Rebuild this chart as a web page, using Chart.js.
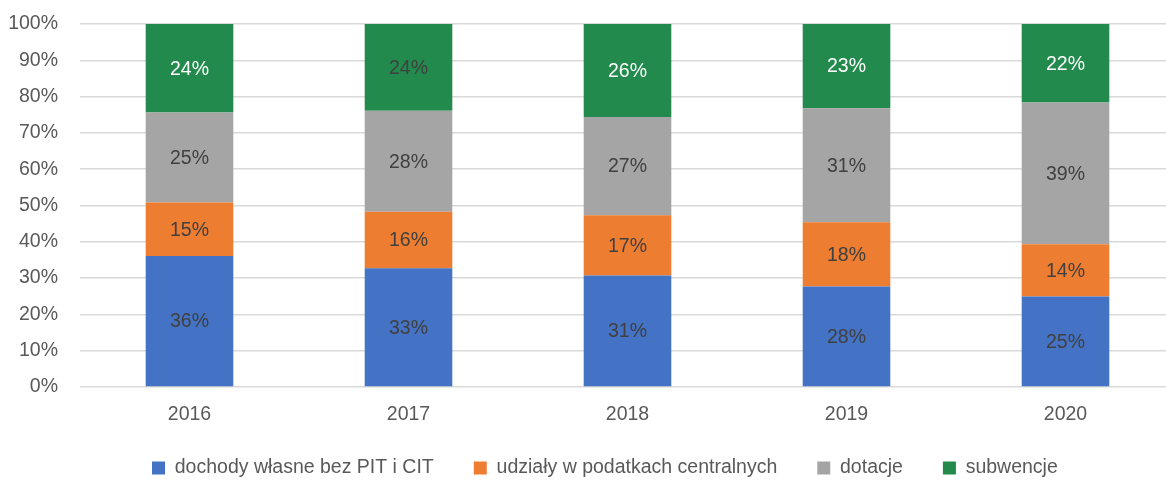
<!DOCTYPE html>
<html>
<head>
<meta charset="utf-8">
<script src="https://cdn.jsdelivr.net/npm/chart.js@4/dist/chart.umd.min.js"></script>
<style>
html,body{margin:0;padding:0;background:#fff;overflow:hidden;}
#wrap{width:1176px;height:480px;}
</style>
</head>
<body>
<div id="wrap"><canvas id="c" width="1176" height="480"></canvas></div>
<script>
const years = ['2016', '2017', '2018', '2019', '2020'];
const seriesNames = ['dochody własne bez PIT i CIT', 'udziały w podatkach centralnych', 'dotacje', 'subwencje'];
const ownIncome = [36.1, 32.7, 30.7, 27.7, 24.9];
const taxShares = [14.7, 15.6, 16.6, 17.7, 14.4];
const grants = [24.8, 27.8, 27.1, 31.4, 39.1];
const subsidies = [24.4, 23.9, 25.6, 23.2, 21.6];
const yTicks = [0, 10, 20, 30, 40, 50, 60, 70, 80, 90, 100];

const colors = ['#4472C4', '#ED7D31', '#A5A5A5', '#218A4C'];
const labelColors = [
  ['#404040','#404040','#404040','#404040','#404040'],
  ['#404040','#404040','#404040','#404040','#404040'],
  ['#404040','#404040','#404040','#404040','#404040'],
  ['#FFFFFF','#404040','#FFFFFF','#FFFFFF','#FFFFFF']
];
const FONT = "'Liberation Sans', Arial, sans-serif";
const values = [ownIncome, taxShares, grants, subsidies];

const dataLabels = {
  id: 'dataLabels',
  afterDatasetsDraw(chart) {
    const ctx = chart.ctx;
    ctx.save();
    ctx.font = '19.5px ' + FONT;
    ctx.textAlign = 'center';
    ctx.textBaseline = 'middle';
    chart.data.datasets.forEach((ds, di) => {
      const meta = chart.getDatasetMeta(di);
      meta.data.forEach((el, i) => {
        const v = ds.data[i];
        ctx.fillStyle = labelColors[di][i];
        ctx.fillText(Math.round(v) + '%', el.x, (el.y + el.base) / 2 + 1);
      });
    });
    ctx.restore();
  }
};

const LEG_PAD = 40;
const legendFix = {
  id: 'legendFix',
  beforeLayout(chart) {
    const L = chart.legend;
    if (L && !L._patched) {
      const f = L.fit;
      L.fit = function () { f.call(this); this.height = 27.5; };
      L._patched = true;
    }
  },
  afterLayout(chart) {
    const L = chart.legend;
    if (L) {
      L.top = 468 - 9.75 - LEG_PAD;
      L.left = 152 - LEG_PAD;
    }
  }
};

new Chart(document.getElementById('c'), {
  type: 'bar',
  data: {
    labels: years,
    datasets: values.map((d, i) => ({
      label: seriesNames[i],
      data: d,
      backgroundColor: colors[i],
      borderWidth: 0,
      barPercentage: 0.4,
      categoryPercentage: 1.0
    }))
  },
  options: {
    responsive: false,
    animation: false,
    devicePixelRatio: 1,
    layout: { padding: { top: 24, right: 1, bottom: 0, left: 0 } },
    plugins: {
      legend: {
        position: 'bottom',
        align: 'start',
        labels: {
          boxWidth: 13,
          boxHeight: 13,
          padding: LEG_PAD,
          color: '#595959',
          font: { family: FONT, size: 19.5 }
        }
      },
      tooltip: { enabled: false }
    },
    scales: {
      x: {
        stacked: true,
        grid: { display: false, drawTicks: false },
        border: { display: false },
        ticks: { color: '#595959', font: { family: FONT, size: 19.5 }, padding: 16 },
        afterFit(s) { s.height = 65.5; }
      },
      y: {
        stacked: true,
        min: 0,
        max: 100,
        afterBuildTicks(s) { s.ticks = yTicks.map(v => ({ value: v })); },
        grid: { color: '#D9D9D9', lineWidth: 1.5, drawTicks: false },
        border: { display: false },
        ticks: {
          color: '#595959',
          font: { family: FONT, size: 19.5 },
          padding: 22,
          callback: v => v + '%'
        },
        afterFit(s) { s.width = 80; s.paddingTop = 12; s.paddingBottom = 12; }
      }
    }
  },
  plugins: [dataLabels, legendFix]
});
</script>
</body>
</html>
